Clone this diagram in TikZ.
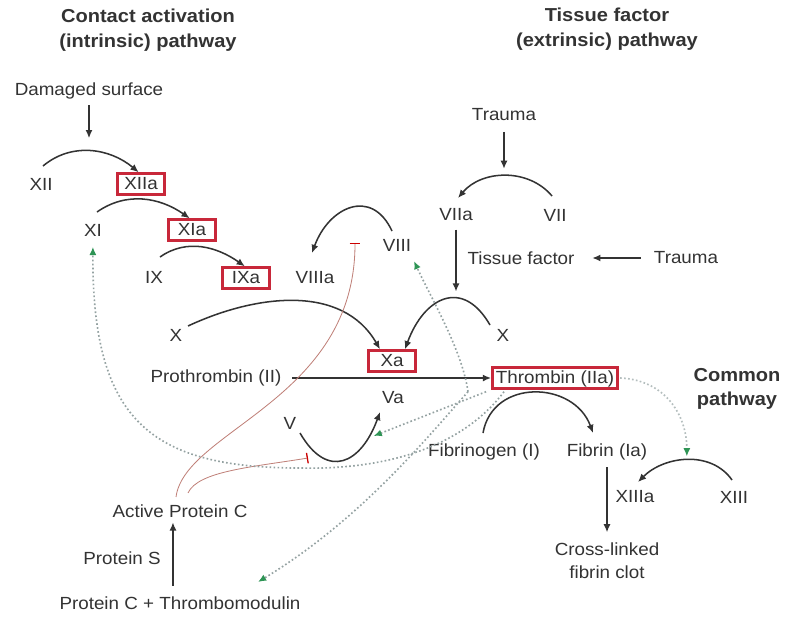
\documentclass[tikz,border=0pt]{standalone}
\usepackage{fontspec}
\setmainfont{Liberation Sans}[FakeStretch=1.07]
\usepackage{tikz}
\usetikzlibrary{arrows.meta}
\definecolor{txt}{HTML}{333333}
\definecolor{boxred}{HTML}{C8283A}
\definecolor{inhib}{HTML}{C08078}
\definecolor{tipgreen}{HTML}{2E9455}
\definecolor{dotgray}{HTML}{94A2A2}

\begin{document}
\begin{tikzpicture}[x=0.03cm, y=0.03cm,
    every node/.style={text=txt, inner sep=2pt, font=\fontsize{15}{19.5}\selectfont},
    title/.style={font=\fontsize{16}{21}\selectfont\bfseries, align=center},
    enz/.style={draw=boxred, line width=2.4pt, inner xsep=3pt, inner ysep=2.3pt, text height=11pt, text depth=2pt},
    conv/.style={draw=txt, line width=1.3pt, -{Latex[length=7pt,width=6pt]}},
    inh/.style={draw=inhib, line width=0.7pt, -{Bar[width=9pt,line width=1.1pt,color=red!80!black]}},
    fb/.style={draw=dotgray, line width=1.4pt, dash pattern=on 1.4pt off 2pt, -{Latex[length=7pt,width=6pt,color=tipgreen]}},
]
\fill[white] (0,0) rectangle (785,-616);
\useasboundingbox (0,0) rectangle (785,-616);

% Titles
\node[title] (ttl1) at (148,-30) {Contact activation\\(intrinsic) pathway};
\node[title] (ttl2) at (607,-29) {Tissue factor\\(extrinsic) pathway};
\node[title] (ttl3) at (737,-389) {Common\\pathway};

% Intrinsic
\node (dmg) at (89,-91) {Damaged surface};
\node (xii) at (41,-184) {XII};
\node[enz, minimum width=1.43cm] (xiia) at (141,-184) {XIIa};
\node (xi) at (93,-230) {XI};
\node[enz, minimum width=1.43cm] (xia) at (192,-230) {XIa};
\node (ix) at (154,-277) {IX};
\node[enz, minimum width=1.4cm] (ixa) at (246,-278) {IXa};
\node (viiia) at (315,-278) {VIIIa};
\node (viii) at (397,-245) {VIII};

% Extrinsic
\node (trauma1) at (504,-115) {Trauma};
\node (viia) at (456,-215) {VIIa};
\node (vii) at (555,-215) {VII};
\node (tf) at (521,-258) {Tissue factor};
\node (trauma2) at (686,-258) {Trauma};

% Common
\node (xl) at (176,-335) {X};
\node (xr) at (503,-335) {X};
\node[enz, minimum width=1.43cm] (xa) at (392,-361) {Xa};
\node (proth) at (216,-378) {Prothrombin (II)};
\node[enz] (thr) at (555,-378) {Thrombin (IIa)};
\node (va) at (393,-398) {Va};
\node (v) at (290,-423) {V};
\node (fbg) at (484,-452) {Fibrinogen (I)};
\node (fbn) at (607,-452) {Fibrin (Ia)};
\node (xiiia) at (635,-497) {XIIIa};
\node (xiii) at (734,-497) {XIII};
\node[align=center] (clot) at (607,-561) {Cross-linked\\fibrin clot};

% Protein C
\node (apc) at (180,-511) {Active Protein C};
\node (ps) at (122,-558) {Protein S};
\node (pctm) at (180,-603) {Protein C + Thrombomodulin};

\draw[conv] ([shift={(2,18)}]xii.center) to[out=40,in=140] coordinate[pos=.5] (m12) ([xshift=-2pt]xiia.north);
\draw[conv, shorten <=3pt, shorten >=11pt] (dmg) -- (dmg |- m12);
\draw[conv] ([shift={(4,18)}]xi.center) to[out=35,in=145] ([xshift=-2pt]xia.north);
\draw[conv] ([shift={(6,20)}]ix.center) to[out=35,in=145] ([xshift=-1pt]ixa.north);
\draw[conv] ([shift={(-5,14)}]viii.center) to[out=115,in=70,looseness=1.5] ([shift={(-3,25)}]viiia.center);

\draw[conv] ([shift={(-3,19)}]vii.center) to[out=130,in=50] coordinate[pos=.5] (m7) ([shift={(2,17)}]viia.center);
\draw[conv, shorten <=7pt, shorten >=6pt] (trauma1) -- (trauma1 |- m7);
\draw[conv, shorten <=9pt, shorten >=13pt] (trauma2) -- (tf);

\draw[conv] ([shift={(12,9)}]xl.center) to[out=25,in=120] ([shift={(-12,0)}]xa.north);
\draw[conv] ([shift={(-13,10)}]xr.center) to[out=120,in=70,looseness=1.6] coordinate[pos=.5] (m10) ([shift={(13,0)}]xa.north);
\draw[conv, shorten <=5pt, shorten >=7pt] (viia) -- (viia |- m10);

\draw[conv, shorten <=7pt] (proth) -- (thr);
\draw[conv] ([shift={(10,-10)}]v.center) to[out=-60,in=-110,looseness=1.7] coordinate[pos=.8] (m5) ([shift={(-13,-14)}]va.center);
\draw[conv] ([shift={(-1,19)}]fbg.center) to[out=80,in=110,looseness=1.3] ([shift={(-14,19)}]fbn.center);
\draw[conv, shorten <=4pt, shorten >=7pt] (fbn) -- (clot);
\draw[conv] ([shift={(-2,17)}]xiii.center) to[out=125,in=45] coordinate[pos=.5] (m13) ([shift={(3,15)}]xiiia.center);
\draw[conv, shorten <=7pt, shorten >=2pt] ([xshift=-6pt]pctm.north) -- ([xshift=-6pt]apc.south);

% inhibition by protein C
\coordinate (blk8) at (355,-243);
\coordinate (blk5) at (308,-458);
\draw[inh] ([shift={(-4,5)}]apc.north) .. controls +(9,67) and +(0,-157) .. (blk8);
\draw[inh] ([shift={(8,9)}]apc.north) .. controls +(10,22) and +(-55,-9) .. (blk5);

% thrombin feedback
\coordinate (tsrc) at ([shift={(-23,-2)}]thr.south west);
\draw[fb, shorten >=7pt] ([shift={(13,-2)}]thr.south west) .. controls (460,-450) and (380,-470) .. (300,-468) .. controls (150,-468) and (92,-420) .. (xi);
\draw[fb, shorten >=6pt] ([shift={(-5,-2)}]thr.south west) -- (m5);
\draw[fb] (tsrc) .. controls (462,-350) and (432,-300) .. ([shift={(17,-16)}]viii.center);
\draw[fb] (tsrc) .. controls (425,-440) and (360,-520) .. ([shift={(78,12)}]pctm.north);
\draw[fb, draw=dotgray!70, shorten >=3pt] ([xshift=1pt]thr.east) .. controls +(45,-2) and +(0,45) .. (m13);
\end{tikzpicture}
\end{document}
